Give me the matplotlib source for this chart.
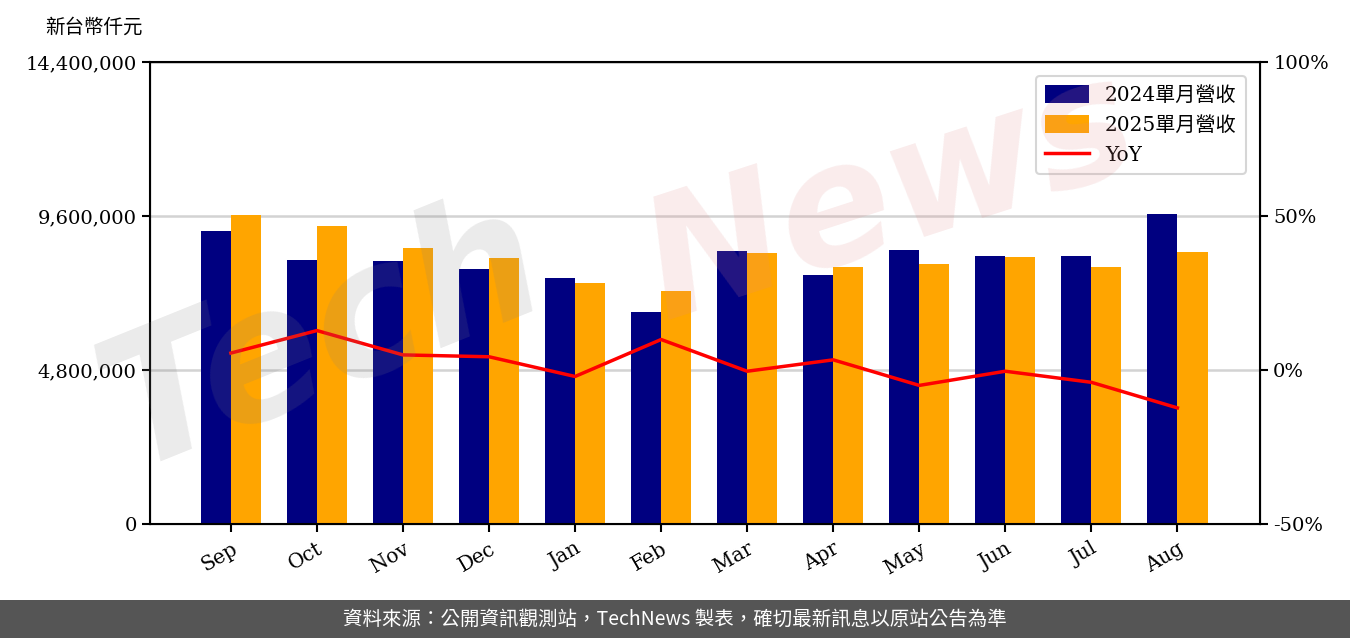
import matplotlib
matplotlib.use("Agg")
import matplotlib.pyplot as plt
import matplotlib.ticker as mticker
import numpy as np

# data
MONTHS = ["Sep", "Oct", "Nov", "Dec", "Jan", "Feb", "Mar", "Apr", "May", "Jun", "Jul", "Aug"]
REV_2024 = [9132000, 8229000, 8197000, 7948000, 7668000, 6608000,
            8509000, 7761000, 8540000, 8353000, 8353000, 9662000]
REV_2025 = [9631000, 9288000, 8603000, 8291000, 7512000, 7262000,
            8447000, 8010000, 8104000, 8322000, 8010000, 8478000]
YOY = [5.5, 12.8, 4.9, 4.3, -2.1, 9.9, -0.4, 3.3, -5.0, -0.4, -4.0, -12.3]

LEFT_TICKS = [0, 4800000, 9600000, 14400000]
RIGHT_TICKS = [-50, 0, 50, 100]

LABEL_2024 = "2024單月營收"
LABEL_2025 = "2025單月營收"
UNIT_LABEL = "新台幣仟元"
FOOTER = "資料來源：公開資訊觀測站，TechNews 製表，確切最新訊息以原站公告為準"

FONT = ["DejaVu Serif", "Noto Sans CJK TC"]
plt.rcParams["font.family"] = FONT

fig = plt.figure(figsize=(13.5, 6.38), dpi=100)
ax = fig.add_axes([150 / 1350, 114 / 638, 1110 / 1350, 462 / 638])

x = np.arange(len(MONTHS))
w = 0.35
b1 = ax.bar(x - w / 2, REV_2024, w, color="#000080", label=LABEL_2024, zorder=2)
b2 = ax.bar(x + w / 2, REV_2025, w, color="#FFA500", label=LABEL_2025, zorder=2)

ax.set_xlim(-0.94, 11.96)
ax.set_ylim(LEFT_TICKS[0], LEFT_TICKS[-1])
ax.set_yticks(LEFT_TICKS)
ax.yaxis.set_major_formatter(mticker.FuncFormatter(lambda v, _: f"{v:,.0f}"))
ax.set_xticks(x)
ax.set_xticklabels(MONTHS, rotation=30, ha="right", rotation_mode="anchor")
ax.tick_params(axis="both", labelsize=14, width=1.5, length=6)
ax.tick_params(axis="x", labelsize=14.5, pad=5)
ax.grid(axis="y", color="#d3d3d3", linewidth=1.8, zorder=0)
ax.set_axisbelow(True)
for s in ax.spines.values():
    s.set_linewidth(1.5)

ax2 = ax.twinx()
ln, = ax2.plot(x, YOY, color="red", linewidth=2.5, label="YoY", zorder=3)
ax2.set_ylim(RIGHT_TICKS[0], RIGHT_TICKS[-1])
ax2.set_yticks(RIGHT_TICKS)
ax2.yaxis.set_major_formatter(mticker.FuncFormatter(lambda v, _: f"{v:.0f}%"))
ax2.tick_params(axis="y", labelsize=14, width=1.5, length=6)

leg = ax2.legend([b1, b2, ln], [LABEL_2024, LABEL_2025, "YoY"], loc="upper right",
                 fontsize=14.5, frameon=True, fancybox=True, edgecolor="#cccccc",
                 handlelength=2.2, handleheight=1.0, borderpad=0.45, labelspacing=0.5,
                 borderaxespad=0.7)
leg.get_frame().set_linewidth(1.5)

# watermark
fig.text(0.24, 0.47, "Tech", fontsize=130, fontstyle="italic", fontweight="bold",
         color="#808080", alpha=0.16, rotation=22, ha="center", va="center",
         family="DejaVu Sans", zorder=10)
fig.text(0.66, 0.69, "News", fontsize=120, fontstyle="italic", fontweight="bold",
         color="#e08a8a", alpha=0.16, rotation=18, ha="center", va="center",
         family="DejaVu Sans", zorder=10)

fig.text(45 / 1350, 1 - 27 / 638, UNIT_LABEL, fontsize=14, ha="left", va="center")

# footer band
fig.patches.append(plt.Rectangle((0, 0), 1, 38 / 638, transform=fig.transFigure,
                                 facecolor="#555555", edgecolor="none", zorder=0))
fig.text(0.5, 19 / 638, FOOTER, fontsize=14, color="white", ha="center", va="center",
         family=["Noto Sans CJK TC", "DejaVu Sans"])

fig.savefig("out.png", dpi=100)
